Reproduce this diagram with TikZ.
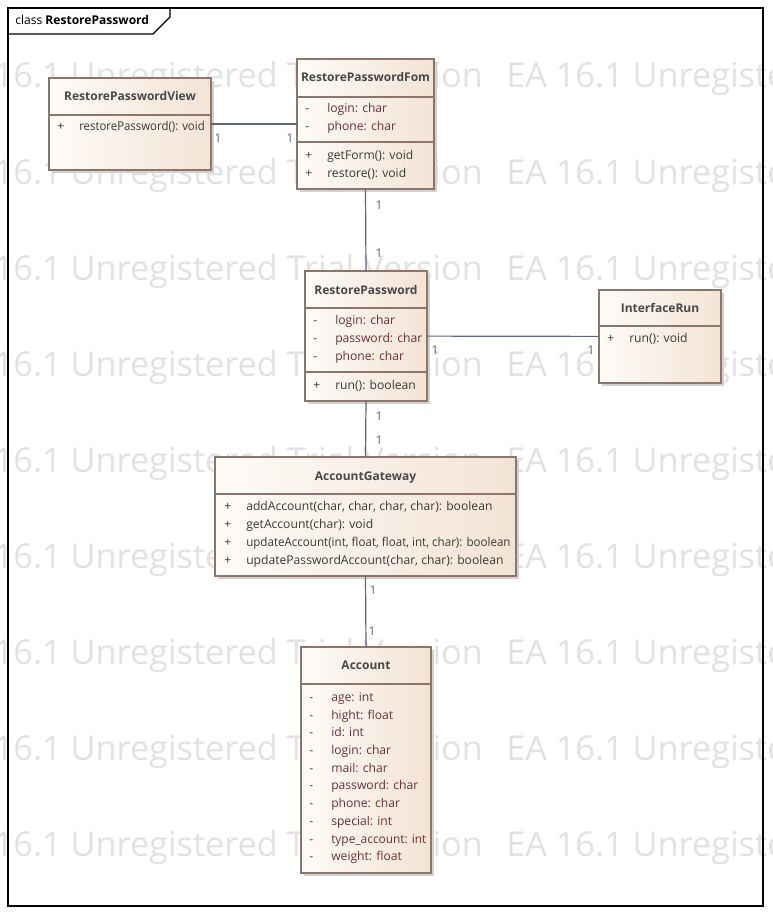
\documentclass[tikz,border=0pt]{standalone}
\usepackage{fontspec}
\setmainfont{Open Sans}
\definecolor{boxborder}{RGB}{140,118,108}
\definecolor{fillL}{RGB}{254,251,248}
\definecolor{fillR}{RGB}{243,227,213}
\definecolor{shadowc}{RGB}{210,210,210}
\definecolor{assocc}{RGB}{95,100,122}
\definecolor{namec}{RGB}{72,72,72}
\definecolor{attrc}{RGB}{112,48,48}
\definecolor{opc}{RGB}{58,58,48}
\definecolor{multc}{RGB}{80,100,130}
\definecolor{wmc}{RGB}{226,226,229}
\newcommand\classbox[5]{%
  \pgfmathsetmacro\ubw{(#4-#2)*0.75}%
  \pgfmathsetmacro\ubh{(#5-#3)*0.75}%
  \fill[shadowc] (#2+3,#3+3) rectangle (#4+3,#5+3);
  \node[umlbox, minimum width=\ubw pt, minimum height=\ubh pt] (#1) at ({(#2+#4)/2},{(#3+#5)/2}) {};
}
\newcommand\mematt[4]{% name, x, y, text
  \node[vis, text=attrc] (#1v) at (#2,#3) {-};
  \node[memtext, text=attrc] (#1) at (#2+22,#3) {#4};
}
\newcommand\memop[4]{% name, x, y, text
  \node[vis, text=opc] (#1v) at (#2,#3) {+};
  \node[memtext, text=opc] (#1) at (#2+22,#3) {#4};
}
\begin{document}
\begin{tikzpicture}[x=0.75pt,y=-0.75pt,
  umlbox/.style={rectangle, draw=boxborder, line width=0.8pt, left color=fillL, right color=fillR, inner sep=0pt, outer sep=0pt},
  divline/.style={draw=boxborder, line width=0.8pt},
  cname/.style={font=\fontsize{9}{10}\selectfont\bfseries, text=namec, inner sep=0pt, anchor=mid},
  vis/.style={font=\fontsize{9.1}{10}\selectfont, inner sep=0pt, anchor=mid west},
  memtext/.style={font=\fontsize{9.1}{10}\selectfont, inner sep=0pt, anchor=mid west},
  assoc/.style={draw=assocc, line width=0.9pt},
  mult/.style={font=\fontsize{9}{10}\selectfont, text=multc, inner sep=0pt, anchor=mid},
  wm/.style={font=\fontsize{25.7}{26}\selectfont, text=wmc, inner sep=0pt, anchor=base west},
  frameline/.style={draw=black, line width=0.9pt}]
\useasboundingbox (0,0) rectangle (772,917);
\fill[white] (0,0) rectangle (772,917);
% watermark
\begin{scope}
\clip (0,0) rectangle (772,917);
\foreach \r in {0,...,8}{
  \node[wm] (wma\r) at (-56,88+96*\r) {EA 16.1 Unregistered Trial Version};
  \node[wm] (wmb\r) at (506,88+96*\r) {EA 16.1 Unregistered Trial Version};
}
\end{scope}
% frame
\draw[frameline] (8,8) rectangle (763,906);
\draw[frameline] (8,34) -- (153,34) -- (170,17) -- (170,8);
\node[anchor=mid west, inner sep=0pt, font=\fontsize{9.05}{10}\selectfont, text=black] (title) at (15,21) {class \textbf{RestorePassword}};

% boxes
\classbox{view}{49}{78}{211}{170}
\classbox{form}{297}{59}{434}{189}
\classbox{rp}{305}{271}{427}{401}
\classbox{ir}{599}{290}{721}{383}
\classbox{ag}{215}{457}{516}{576}
\classbox{acc}{301}{647}{431}{873}

% connectors
\draw[assoc] (view) -- (form);
\draw[assoc] (form.south) -- (rp.north);
\draw[assoc] (rp) -- (ir);
\draw[assoc] (rp.south) -- (ag.north);
\draw[assoc] (ag.south) -- (acc.north);

% RestorePasswordView
\draw[divline] (49,115) -- (211,115);
\node[cname] (viewn) at (130,97) {RestorePasswordView};
\memop{vo1}{57}{127}{\scalebox{0.94}[1]{restorePassword(): void}}

% RestorePasswordForm
\draw[divline] (297,97) -- (434,97);
\draw[divline] (297,142) -- (434,142);
\node[cname] (formn) at (365.5,78) {RestorePasswordFom};
\mematt{fa1}{305}{109}{login: char}
\mematt{fa2}{305}{127}{phone: char}
\memop{fo1}{305}{156}{getForm(): void}
\memop{fo2}{305}{174}{restore(): void}

% RestorePassword
\draw[divline] (305,308) -- (427,308);
\draw[divline] (305,372) -- (427,372);
\node[cname] (rpn) at (366,291) {RestorePassword};
\mematt{ra1}{313}{321}{login: char}
\mematt{ra2}{313}{339}{password: char}
\mematt{ra3}{313}{357}{phone: char}
\memop{ro1}{313}{386}{run(): boolean}

% InterfaceRun
\draw[divline] (599,326) -- (721,326);
\node[cname] (irn) at (660,309) {InterfaceRun};
\memop{io1}{607}{339}{run(): void}

% AccountGateway
\draw[divline] (215,494) -- (516,494);
\node[cname] (agn) at (365.5,477) {AccountGateway};
\memop{go1}{224}{507}{addAccount(char, char, char, char): boolean}
\memop{go2}{224}{525}{getAccount(char): void}
\memop{go3}{224}{543}{\scalebox{0.955}[1]{updateAccount(int, float, float, int, char): boolean}}
\memop{go4}{224}{561}{updatePasswordAccount(char, char): boolean}

% Account
\draw[divline] (301,684) -- (431,684);
\node[cname] (accn) at (366,666) {Account};
\mematt{aa1}{309}{698}{age: int}
\mematt{aa2}{309}{716}{hight: float}
\mematt{aa3}{309}{733}{id: int}
\mematt{aa4}{309}{751}{login: char}
\mematt{aa5}{309}{769}{mail: char}
\mematt{aa6}{309}{786}{password: char}
\mematt{aa7}{309}{804}{phone: char}
\mematt{aa8}{309}{822}{special: int}
\mematt{aa9}{309}{840}{\scalebox{0.98}[1]{type\_account: int}}
\mematt{aa10}{309}{857}{weight: float}

% multiplicities
\node[mult] (m1) at (218,139) {1};
\node[mult] (m2) at (290,139) {1};
\node[mult] (m3) at (379,206) {1};
\node[mult] (m4) at (379,254) {1};
\node[mult] (m5) at (435,351) {1};
\node[mult] (m6) at (591,351) {1};
\node[mult] (m7) at (379,417) {1};
\node[mult] (m8) at (379,441) {1};
\node[mult] (m9) at (373,591) {1};
\node[mult] (m10) at (372,632) {1};
\end{tikzpicture}
\end{document}
